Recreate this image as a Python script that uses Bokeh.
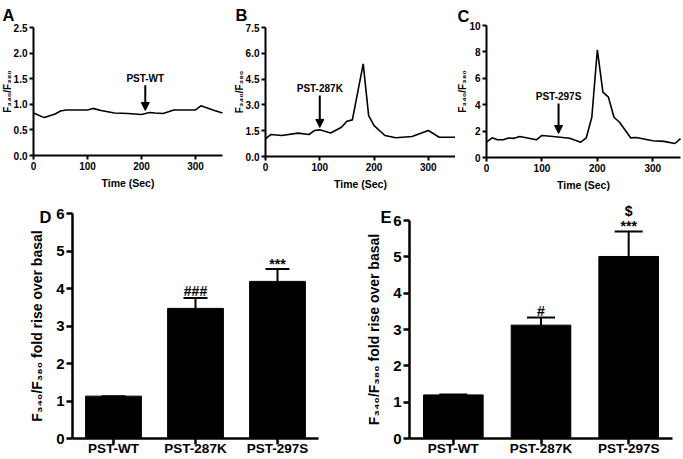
from bokeh.plotting import figure
from bokeh.layouts import column, row
from bokeh.models import (Range1d, FixedTicker, PrintfTickFormatter, Arrow,
                          NormalHead, Whisker, ColumnDataSource, TeeHead)
from bokeh.core.properties import value
from bokeh.embed import file_html
from bokeh.resources import INLINE

FONT = "Liberation Sans"

# ---------------- data ----------------
time_a = [0, 20, 40, 50, 60, 100, 110, 125, 150, 175, 200, 215, 225, 240, 260, 300, 310, 335, 350]
ratio_a = [0.83, 0.74, 0.81, 0.87, 0.89, 0.89, 0.92, 0.88, 0.83, 0.82, 0.80, 0.84, 0.83, 0.82, 0.89, 0.89, 0.97, 0.88, 0.83]

time_b = [0, 10, 30, 60, 80, 90, 100, 120, 140, 150, 160, 180, 190, 200, 220, 240, 270, 300, 320, 350]
ratio_b = [1.03, 1.28, 1.22, 1.36, 1.28, 1.51, 1.55, 1.37, 1.70, 2.05, 2.13, 5.39, 2.38, 1.80, 1.22, 1.09, 1.16, 1.51, 1.12, 1.12]

time_c = [0, 10, 20, 30, 40, 50, 60, 90, 100, 120, 150, 170, 180, 190, 200, 210, 220, 230, 240, 260, 270, 300, 320, 340, 350]
ratio_c = [1.16, 1.49, 1.34, 1.34, 1.48, 1.45, 1.59, 1.34, 1.67, 1.59, 1.46, 1.16, 1.49, 3.05, 8.16, 4.95, 4.57, 3.05, 2.67, 1.49, 1.52, 1.27, 1.22, 1.06, 1.43]

time_ticks = [0, 100, 200, 300]
time_max = 350
yticks_a = [0, 0.5, 1.0, 1.5, 2.0, 2.5]
yticks_b = [0, 1.5, 3.0, 4.5, 6.0, 7.5]
yticks_c = [0, 2, 4, 6, 8, 10]

# arrows: (label, x, y_start, y_end)
arrow_a = ("PST-WT", 207, 1.37, 0.88)
arrow_b = ("PST-287K", 100, 3.55, 1.69)
arrow_c = ("PST-297S", 130, 4.10, 1.82)

groups = ["PST-WT", "PST-287K", "PST-297S"]
d_mean = [1.13, 3.47, 4.19]
d_err = [0.0, 0.28, 0.33]
d_hash = ["", "###", ""]
d_star = ["", "", "***"]
d_dollar = ["", "", ""]
e_mean = [1.20, 3.12, 5.01]
e_err = [0.01, 0.21, 0.69]
e_hash = ["", "#", ""]
e_star = ["", "", "***"]
e_dollar = ["", "", "$"]
bar_ticks = [0, 1, 2, 3, 4, 5, 6]
bar_max = 6

YLAB_TOP = "F\u2083\u2084\u2080/F\u2083\u2088\u2080"
YLAB_BOT = "F\u2083\u2084\u2080/F\u2083\u2088\u2080 fold rise over basal"


class PixMap:
    """linear map: value v0 sits at pixel p0, v1 at pixel p1 (pixels from left/top)."""
    def __init__(self, v0, p0, v1, p1):
        self.v0, self.p0 = v0, p0
        self.k = (v1 - v0) / (p1 - p0)

    def __call__(self, px):
        return self.v0 + (px - self.p0) * self.k


def style_axes(p, lw, tick_out, lab_size, title_size):
    for ax in (p.xaxis[0], p.yaxis[0]):
        ax.axis_line_width = lw
        ax.major_tick_line_width = lw
        ax.major_tick_out = tick_out
        ax.major_tick_in = 0
        ax.minor_tick_line_color = None
        ax.major_label_text_font = FONT
        ax.major_label_text_font_style = "bold"
        ax.major_label_text_font_size = lab_size
        ax.major_label_text_color = "black"
        ax.axis_label_text_font = FONT
        ax.axis_label_text_font_style = "bold"
        ax.axis_label_text_font_size = title_size
        ax.axis_label_text_color = "black"
        ax.major_label_standoff = 2
    p.xgrid.visible = False
    p.ygrid.visible = False
    p.outline_line_color = None


def letter(p, txt, x, y, size):
    p.text(x=[x], y=[y], text=[txt], text_font=value(FONT), text_font_style="bold",
           text_font_size=size, text_color="black", text_align="left", text_baseline="alphabetic")


def trace_panel(t, r, yticks, ymax, fmt, arrow, w, geom, name, let_px):
    h = 198
    x0px, x1px, ytop_px, y0px = geom
    mx = PixMap(0, x0px, time_max, x1px)
    my = PixMap(ymax, ytop_px, 0, y0px)
    p = figure(width=w, height=h, output_backend="svg", toolbar_location=None,
               x_range=Range1d(mx(0), mx(w)), y_range=Range1d(my(h), my(0)), min_border=0)
    p.line(t, r, line_color="black", line_width=1.6)
    lab, ax_x, y0, y1 = arrow
    p.add_layout(Arrow(end=NormalHead(size=8, fill_color="black", line_color="black"),
                       x_start=ax_x, y_start=y0, x_end=ax_x, y_end=y1,
                       line_width=2, line_color="black"))
    p.text(x=[ax_x], y=[y0], text=[lab], text_font=value(FONT), text_font_style="bold",
           text_font_size="10px", text_align="center", text_baseline="bottom", y_offset=-1)
    p.xaxis.ticker = FixedTicker(ticks=time_ticks)
    p.yaxis.ticker = FixedTicker(ticks=yticks)
    p.yaxis.formatter = PrintfTickFormatter(format=fmt)
    p.xaxis.fixed_location = 0
    p.yaxis.fixed_location = 0
    p.xaxis.bounds = (0, time_max)
    p.yaxis.bounds = (0, ymax)
    p.xaxis.axis_label = "Time (Sec)"
    p.yaxis.axis_label = YLAB_TOP
    style_axes(p, 2, 4, "10px", "10.5px")
    p.yaxis.axis_label_text_font_size = "10px"
    p.xaxis.axis_label_standoff = 4
    p.yaxis.axis_label_standoff = -2
    letter(p, name, mx(let_px[0]), my(let_px[1]), "16.5px")
    return p


def bar_panel(mean, err, hashes, stars, dollars, w, geom, name, let_px, cap):
    h = 261
    xa_px, xb_px, ytop_px, y0px = geom
    n = len(groups)
    mx = PixMap(-0.5, xa_px, n - 0.5, xb_px)
    my = PixMap(bar_max, ytop_px, 0, y0px)
    p = figure(width=w, height=h, output_backend="svg", toolbar_location=None,
               x_range=Range1d(mx(0), mx(w)), y_range=Range1d(my(h), my(0)), min_border=0)
    pos = list(range(n))
    top = [m + e for m, e in zip(mean, err)]
    src = ColumnDataSource(dict(x=pos, m=mean, top=top, hashes=hashes, stars=stars, dollars=dollars))
    p.vbar(x="x", top="m", bottom=0, width=0.68, source=src, fill_color="black", line_color="black")
    p.add_layout(Whisker(source=src, base="x", lower="m", upper="top", line_width=2,
                         line_color="black", lower_head=None,
                         upper_head=TeeHead(size=cap, line_width=2, line_color="black")))
    for col, off in (("hashes", 1), ("stars", 3), ("dollars", -12)):
        p.text(x="x", y="top", text=col, source=src, text_font=value(FONT), text_font_style="bold",
               text_font_size="14px", text_color="black", text_align="center",
               text_baseline="bottom", y_offset=off)
    p.xaxis.ticker = FixedTicker(ticks=pos)
    p.xaxis.major_label_overrides = {i: g for i, g in enumerate(groups)}
    p.yaxis.ticker = FixedTicker(ticks=bar_ticks)
    p.xaxis.fixed_location = 0
    p.yaxis.fixed_location = -0.5
    p.xaxis.bounds = (-0.5, n - 0.5)
    p.yaxis.bounds = (0, bar_max)
    p.yaxis.axis_label = YLAB_BOT
    style_axes(p, 2.5, 6, "13.5px", "14px")
    p.xaxis.major_label_text_font_size = "13.5px"
    p.xaxis.major_label_standoff = -4
    p.yaxis.major_label_text_font_size = "15px"
    p.yaxis.axis_label_standoff = 8
    letter(p, name, mx(let_px[0]), my(let_px[1]), "16.5px")
    return p


# geometry in pixels: (x of 0, x of max, y of max, y of 0)
pa = trace_panel(time_a, ratio_a, yticks_a, 2.5, "%.1f", arrow_a, 228, (33, 222, 27, 155), "A", (2, 14))
pb = trace_panel(time_b, ratio_b, yticks_b, 7.5, "%.1f", arrow_b, 227, (37, 227, 27, 156), "B", (7, 14))
pc = trace_panel(time_c, ratio_c, yticks_c, 10, "%d", arrow_c, 228, (31, 225, 25, 157), "C", (2, 15))
pd = bar_panel(d_mean, d_err, d_hash, d_star, d_dollar, 340, (72, 318, 15, 240), "D", (39, 18), 24)
pe = bar_panel(e_mean, e_err, e_hash, e_star, e_dollar, 343, (69, 332, 22, 240), "E", (40, 18), 28)

layout = column(row(pa, pb, pc), row(pd, pe))
open("out.html", "w").write(file_html(layout, INLINE))
